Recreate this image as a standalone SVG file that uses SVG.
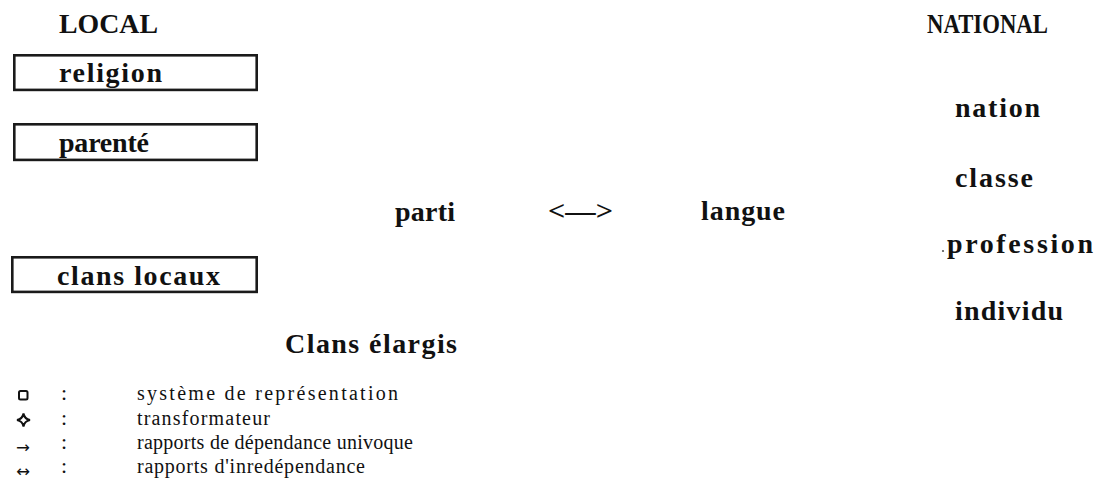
<svg xmlns="http://www.w3.org/2000/svg" width="1095" height="492" viewBox="0 0 1095 492">
<style>
.b{font-family:"Liberation Serif","Times New Roman",serif;font-weight:bold;font-size:28px;fill:#111}
.l{font-family:"Liberation Serif","Times New Roman",serif;font-size:20px;fill:#111}
.c{font-family:"Liberation Serif","Times New Roman",serif;font-size:22px;fill:#111}
.a{font-family:"DejaVu Sans",sans-serif;font-size:16px;fill:#111}
.box{fill:#fff;stroke:#1a1a1a;stroke-width:2.6}
</style>
<rect width="1095" height="492" fill="#fff"/>
<g id="header-local"><text class="b" x="59" y="33" textLength="99" lengthAdjust="spacingAndGlyphs">LOCAL</text></g>
<g id="header-national"><text class="b" x="927" y="33" textLength="121" lengthAdjust="spacingAndGlyphs">NATIONAL</text></g>
<g id="religion"><rect class="box" x="14.3" y="55.3" width="242.4" height="34.6"/><text class="b" x="59" y="82" textLength="103" lengthAdjust="spacing">religion</text></g>
<g id="parente"><rect class="box" x="14.3" y="124.3" width="242.4" height="35.6"/><text class="b" x="59" y="152" textLength="90" lengthAdjust="spacing">parenté</text></g>
<g id="clans-locaux"><rect class="box" x="12.3" y="257.3" width="244.4" height="34.6"/><text class="b" x="57" y="285" textLength="163" lengthAdjust="spacing">clans  locaux</text></g>
<g id="parti"><text class="b" x="395" y="221" textLength="60" lengthAdjust="spacing">parti</text></g>
<g id="connectors"><text class="b" x="548" y="220" textLength="65" lengthAdjust="spacingAndGlyphs">&lt;—&gt;</text></g>
<g id="langue"><text class="b" x="701" y="220" textLength="84" lengthAdjust="spacing">langue</text></g>
<g id="clans-elargis"><text class="b" x="285" y="353" textLength="172" lengthAdjust="spacing">Clans  élargis</text></g>
<g id="nation"><text class="b" x="955" y="117" textLength="85" lengthAdjust="spacing">nation</text></g>
<g id="classe"><text class="b" x="955" y="187" textLength="78" lengthAdjust="spacing">classe</text></g>
<g id="profession"><circle cx="943" cy="251" r="1.1" fill="#555"/><text class="b" x="947" y="253" textLength="146" lengthAdjust="spacing">profession</text></g>
<g id="individu"><text class="b" x="955" y="320" textLength="108" lengthAdjust="spacing">individu</text></g>
<g id="legend">
<rect x="19" y="391" width="8.5" height="8.5" rx="1.5" fill="none" stroke="#111" stroke-width="2"/>
<path d="M23.5 413.5 Q24.5 419 30 420 Q24.5 421 23.5 426.5 Q22.5 421 17 420 Q22.5 419 23.5 413.5 Z" fill="none" stroke="#111" stroke-width="2"/>
<text class="a" x="16" y="453" textLength="14" lengthAdjust="spacingAndGlyphs">→</text>
<text class="a" x="16" y="477" textLength="14" lengthAdjust="spacingAndGlyphs">↔</text>
<text class="c" x="61" y="400">:</text>
<text class="c" x="61" y="425">:</text>
<text class="c" x="61" y="449">:</text>
<text class="c" x="61" y="473">:</text>
<text class="l" x="137" y="400" textLength="261" lengthAdjust="spacing">système de représentation</text>
<text class="l" x="137" y="425" textLength="133" lengthAdjust="spacing">transformateur</text>
<text class="l" x="137" y="449" textLength="276" lengthAdjust="spacing">rapports de dépendance univoque</text>
<text class="l" x="137" y="473" textLength="228" lengthAdjust="spacing">rapports d'inredépendance</text>
</g>
</svg>
